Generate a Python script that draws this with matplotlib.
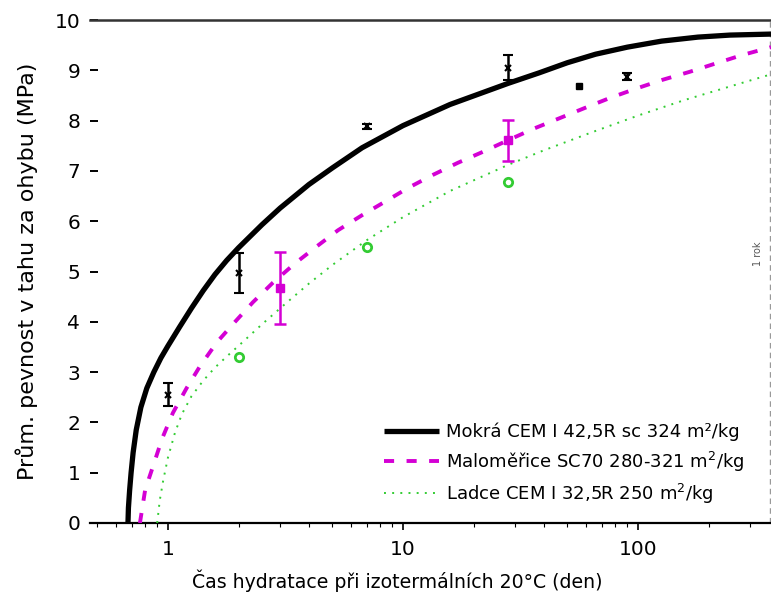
import matplotlib
matplotlib.use("Agg")
import matplotlib.pyplot as plt
from matplotlib.ticker import LogLocator, NullFormatter, FixedLocator

# ---- data ----
# fitted curves (time in days, strength in MPa)
mokra_t = [0.676, 0.679, 0.687, 0.697, 0.711, 0.733, 0.767, 0.813, 0.871, 0.933, 1.0, 1.122,
           1.259, 1.413, 1.585, 1.778, 1.995, 2.512, 3.0, 3.98, 5.01, 6.7, 10, 15.85, 28, 38,
           50, 66, 90, 126, 180, 246, 368]
mokra_f = [0.0, 0.3, 0.65, 1.0, 1.4, 1.85, 2.3, 2.68, 3.0, 3.28, 3.52, 3.9,
           4.27, 4.62, 4.94, 5.22, 5.47, 5.93, 6.26, 6.73, 7.06, 7.46, 7.90, 8.32, 8.74, 8.95,
           9.15, 9.32, 9.46, 9.58, 9.66, 9.70, 9.72]

malo_t = [0.76, 0.80, 0.87, 0.945, 1.05, 1.20, 1.37, 1.62, 1.93, 2.30, 2.8, 3.47, 4.30, 5.29,
          6.7, 8.4, 10.5, 13.4, 17.1, 21.9, 28, 36, 46.5, 59.3, 75.9, 98.7, 127, 166, 212, 276, 368]
malo_f = [0.0, 0.66, 1.17, 1.68, 2.19, 2.68, 3.12, 3.6, 4.0, 4.39, 4.78, 5.16, 5.50, 5.82,
          6.12, 6.39, 6.66, 6.92, 7.16, 7.38, 7.61, 7.84, 8.05, 8.25, 8.45, 8.64, 8.81, 8.97, 9.13, 9.30, 9.46]

ladce_t = [0.90, 0.923, 0.955, 1.0, 1.072, 1.148, 1.259, 1.413, 1.585, 1.778, 1.995, 2.512,
           3.162, 3.98, 5.01, 7.0, 10, 15.85, 28, 39.8, 63, 100, 158, 251, 368]
ladce_f = [0.0, 0.45, 0.85, 1.3, 1.8, 2.17, 2.52, 2.83, 3.09, 3.31, 3.52, 3.95,
           4.36, 4.76, 5.13, 5.62, 6.08, 6.6, 7.12, 7.41, 7.76, 8.1, 8.41, 8.69, 8.92]

# measured points
mokra_pt_t = [1, 2, 7, 28, 90]
mokra_pt_f = [2.55, 4.97, 7.89, 9.05, 8.87]
mokra_pt_e = [0.23, 0.40, 0.05, 0.25, 0.07]
mokra_sq_t = [56]
mokra_sq_f = [8.69]

malo_pt_t = [3, 28]
malo_pt_f = [4.67, 7.61]
malo_pt_e = [0.72, 0.41]

ladce_pt_t = [2, 7, 28]
ladce_pt_f = [3.30, 5.49, 6.78]

labels = ["Mokrá CEM I 42,5R sc 324 m\u00b2/kg",
          "Maloměřice SC70 280-321 m$^2$/kg",
          "Ladce CEM I 32,5R 250 m$^2$/kg"]
year_t = 365
yticks = list(range(0, 11))
xticks = [1, 10, 100]

plt.rcParams['font.family'] = ['DejaVu Sans']

fig = plt.figure(figsize=(7.71, 6.01), dpi=100)
L, B, T = 90, 523, 20
ax = fig.add_axes([L/771, (601-B)/601, 1 - L/771, (B-T)/601])

black = '#000000'
mag = '#d400d4'
green = '#33cc33'

ax.plot(mokra_t, mokra_f, color=black, lw=3.8, solid_capstyle='butt', label=labels[0], zorder=3)
ax.plot(malo_t, malo_f, color=mag, lw=2.8, ls=(0, (2.6, 3.2)), label=labels[1], zorder=3)
ax.plot(ladce_t, ladce_f, color=green, lw=1.4, ls=(0, (1, 3.2)), label=labels[2], zorder=3)

ax.errorbar(mokra_pt_t, mokra_pt_f, yerr=mokra_pt_e, fmt='x', color=black, ms=4, mew=1.5,
            elinewidth=1.8, capsize=3.5, capthick=1.8, zorder=4)
ax.plot(mokra_sq_t, mokra_sq_f, 's', color=black, ms=5, zorder=4)
ax.errorbar(malo_pt_t, malo_pt_f, yerr=malo_pt_e, fmt='s', color=mag, ms=6,
            elinewidth=1.8, capsize=4, capthick=1.8, zorder=4)
ax.plot(ladce_pt_t, ladce_pt_f, 'o', mfc='none', mec=green, mew=2, ms=6, zorder=4)

ax.axvline(year_t, color='#999999', lw=1.0, ls=(0, (4, 3)), zorder=1)
ax.text(year_t * 0.935, 5.35, "1 rok", rotation=90, ha='right', va='center', fontsize=7, color='#555555')

ax.set_xscale('log')
ax.set_xlim(0.466, 368)
ax.set_ylim(0, 10)

ax.xaxis.set_major_locator(FixedLocator(xticks))
ax.set_xticklabels([str(v) for v in xticks])
ax.xaxis.set_minor_locator(LogLocator(base=10, subs=range(2, 10)))
ax.xaxis.set_minor_formatter(NullFormatter())
ax.set_yticks(yticks)

ax.tick_params(axis='x', which='major', direction='out', length=5, width=1.2, labelsize=14.5, pad=7)
ax.tick_params(axis='x', which='minor', direction='out', length=3, width=0.8)
ax.tick_params(axis='y', which='major', direction='in', length=6, width=1.4, labelsize=14.5, pad=7)

for s in ['left', 'right']:
    ax.spines[s].set_visible(False)
ax.spines['top'].set_color('#333333')
ax.spines['top'].set_linewidth(1.8)
ax.spines['bottom'].set_linewidth(1.6)

ax.set_xlabel("Čas hydratace při izotermálních 20°C (den)", fontsize=13.6)
ax.xaxis.set_label_coords(0.451, -0.092)
ax.set_ylabel("Prům. pevnost v tahu za ohybu (MPa)", fontsize=16)
ax.yaxis.set_label_coords(-0.076, 0.5)

ax.legend(loc='lower right', bbox_to_anchor=(0.985, 0.002), frameon=False, fontsize=13,
          handlelength=3.05, handletextpad=0.4, labelspacing=0.45, borderpad=0.4)

fig.savefig("out.png", dpi=100)
